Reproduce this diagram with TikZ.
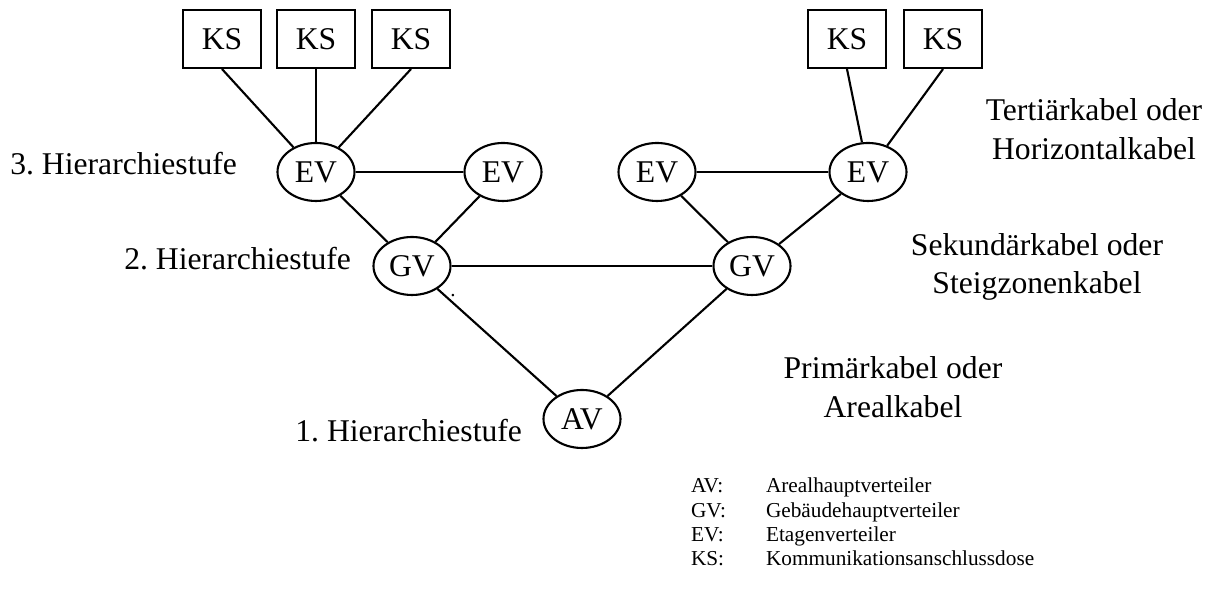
\documentclass[tikz,border=0pt]{standalone}
\usepackage{fontspec}
\setmainfont{Liberation Serif}
\usetikzlibrary{shapes.geometric}
\frenchspacing
\tikzset{ vt/.style = { ellipse % verteiler
        , draw
        , minimum width = 7.7mm
        , minimum height = 5.8mm
        , inner sep = 0pt
        , font = \fontsize{9}{11}\selectfont
        }
        , ks/.style = { rectangle % anschlussdose
        , draw
        , minimum width = 7.8mm
        , minimum height = 5.8mm
        , inner sep = 0pt
        , font = \fontsize{9}{11}\selectfont
        }
        , stufe/.style = { anchor = base east % hierarchiestufe
        , inner sep = 0pt
        , font = \fontsize{9}{11}\selectfont
        }
        , kabel/.style = { align = center % kabelart
        , inner sep = 0pt
        , font = \fontsize{9}{11}\selectfont
        }
        }

\begin{document}
\begin{tikzpicture}[line width=0.6pt,
        legend_style/.style={anchor=base west,inner sep=0pt,font=\fontsize{6.05}{7}\selectfont},
        edge_style/.style={draw=black,line width=0.6pt}]
        \useasboundingbox (0,0) rectangle (12.15,-5.93);

        \node [ks](ks1) at (2.22,-0.39) {KS};
        \node [ks](ks2) at (3.16,-0.39) {KS};
        \node [ks](ks3) at (4.11,-0.39) {KS};
        \node [ks](ks4) at (8.47,-0.39) {KS};
        \node [ks](ks5) at (9.43,-0.39) {KS};
        \node [vt](ev1) at (3.16,-1.72) {EV};
        \node [vt](ev2) at (5.03,-1.72) {EV};
        \node [vt](ev3) at (6.57,-1.72) {EV};
        \node [vt](ev4) at (8.68,-1.72) {EV};
        \node [vt](gv1) at (4.12,-2.66) {GV};
        \node [vt](gv2) at (7.52,-2.66) {GV};
        \node [vt](av) at (5.82,-4.19) {AV};
        \node [inner sep=0pt,font=\fontsize{6}{7}\selectfont](pkt) at (4.53,-2.96) {.};

        \node [stufe](st3) at (2.38,-1.75) {3. Hierarchiestufe};
        \node [stufe](st2) at (3.52,-2.70) {2. Hierarchiestufe};
        \node [stufe](st1) at (5.23,-4.42) {1. Hierarchiestufe};

        \node [kabel](tert) at (10.94,-1.29) {Tertiärkabel oder\\Horizontalkabel};
        \node [kabel](sek) at (10.37,-2.67) {Sekundärkabel oder\\Steigzonenkabel};
        \node [kabel](prim) at (8.93,-3.87) {Primärkabel oder\\Arealkabel};

        \foreach \kurz/\lang [count=\i] in {AV/Arealhauptverteiler,GV/Gebäudehauptverteiler,EV/Etagenverteiler,KS/Kommunikationsanschlussdose}
        {
            \node [legend_style](lk\i) at (6.90,-4.93-0.243*\i+0.243) {\kurz:};
            \node [legend_style](ll\i) at (7.65,-4.93-0.243*\i+0.243) {\lang};
        }

        \draw [edge_style] (ks1.south) -- (ev1);
        \draw [edge_style] (ks2.south) -- (ev1);
        \draw [edge_style] (ks3.south) -- (ev1);
        \draw [edge_style] (ks4.south) -- (ev4);
        \draw [edge_style] (ks5.south) -- (ev4);
        \draw [edge_style] (ev1) -- (ev2);
        \draw [edge_style] (ev3) -- (ev4);
        \draw [edge_style] (ev1) -- (gv1);
        \draw [edge_style] (ev2) -- (gv1);
        \draw [edge_style] (ev3) -- (gv2);
        \draw [edge_style] (ev4) -- (gv2);
        \draw [edge_style] (gv1) -- (gv2);
        \draw [edge_style] (gv1) -- (av);
        \draw [edge_style] (gv2) -- (av);
\end{tikzpicture}
\end{document}
